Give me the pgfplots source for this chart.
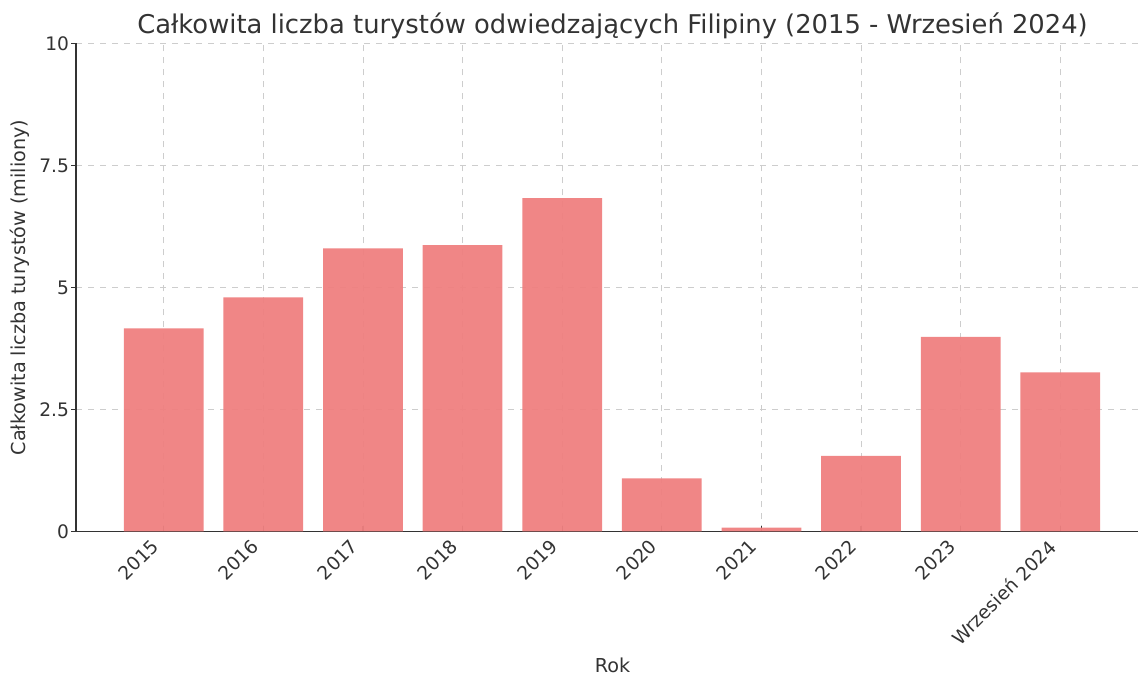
\documentclass[border=0pt]{standalone}
\usepackage{fontspec}
\setmainfont{DejaVu Sans}
\usepackage{pgfplots}
\pgfplotsset{compat=1.18}
\definecolor{barred}{RGB}{239,128,128}
\definecolor{txt}{RGB}{51,51,51}
\definecolor{gridgray}{RGB}{205,205,205}

\begin{document}
\begin{tikzpicture}
\begin{axis}[
    scale only axis,
    width=536.5pt, height=244pt,
    xmin=-0.88, xmax=9.89,
    ymin=0, ymax=10,
    axis x line*=bottom, axis y line*=left,
    axis line style={txt, line width=0.7pt, -},
    xtick={0,1,2,3,4,5,6,7,8,9},
    xticklabels={2015,2016,2017,2018,2019,2020,2021,2022,2023,{Wrzesień 2024}},
    xticklabel style={xshift=-6.7pt, yshift=1.7pt, rotate=45, anchor=north east,
        font=\fontsize{9.3}{11}\selectfont, text=txt},
    ytick={0,2.5,5,7.5,10},
    yticklabels={0,2.5,5,7.5,10},
    yticklabel style={font=\fontsize{9.3}{11}\selectfont, text=txt},
    tick align=inside,
    major tick length=2.5pt,
    tick style={txt, line width=0.6pt},
    y tick style={xshift=-2.5pt},
    grid=major,
    grid style={gridgray, dashed, line width=0.4pt},
    every axis title shift=0pt,
    title={Całkowita liczba turystów odwiedzających Filipiny (2015 - Wrzesień 2024)},
    title style={font=\fontsize{12.9}{15}\selectfont, text=txt,
        at={(axis description cs:0.5,1)}, anchor=base, yshift=5.1pt},
    xlabel={Rok},
    ylabel={Całkowita liczba turystów (miliony)},
    label style={font=\fontsize{9.6}{11}\selectfont, text=txt},
    xlabel style={at={(axis description cs:0.5,0)}, anchor=base, yshift=-70.5pt},
    ylabel style={yshift=-2pt},
]
\addplot[ybar, bar width=0.8, fill=barred, draw=none, fill opacity=0.95]
coordinates {
    (0,4.16) (1,4.80) (2,5.80) (3,5.87) (4,6.83)
    (5,1.09) (6,0.08) (7,1.55) (8,3.99) (9,3.26)
};
\end{axis}
\pgfresetboundingbox
\path[use as bounding box] ([shift={(-38pt,-72.75pt)}]current axis.south west)
    rectangle ([shift={(531pt,21.75pt)}]current axis.north west);
\end{tikzpicture}
\end{document}
